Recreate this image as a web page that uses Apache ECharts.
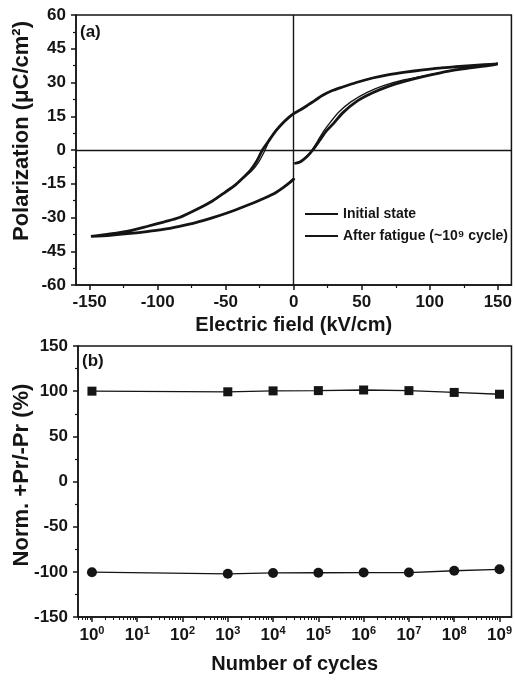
<!DOCTYPE html>
<html>
<head>
<meta charset="utf-8">
<title>P-E loop and fatigue</title>
<script src="https://cdn.jsdelivr.net/npm/echarts@6/dist/echarts.min.js"></script>
<style>
  html, body { margin: 0; padding: 0; background: #fff; }
  #chart { width: 515px; height: 685px; }
</style>
</head>
<body>
<div id="chart"></div>
<script>
// (a) hysteresis loops, E in kV/cm, P in uC/cm2
var initialE = [0.5, 5, 10, 14, 19, 24, 29, 36, 46, 58, 70, 82, 95, 107, 119, 131, 143, 150,
  140, 130, 119, 107, 95, 82, 70, 58, 46, 36, 28, 21, 16, 10, 5, 0, -4, -8, -13, -18, -23, -27, -32, -37, -43, -50, -60, -70, -84, -95, -108, -120, -135, -149,
  -135, -120, -108, -96, -84, -72, -60, -48, -35, -25, -15, -8, -3, 0.5];
var initialP = [-6.0, -5.2, -2.8, 0, 4.2, 8.5, 11.6, 16.5, 21.5, 25.4, 28.4, 30.6, 32.6, 34.2, 35.6, 36.6, 37.5, 38.3,
  37.9, 37.5, 37.0, 36.4, 35.6, 34.6, 33.5, 32.0, 30.0, 28.0, 26.3, 24.2, 22.2, 19.8, 17.9, 16.2, 14.3, 12.0, 8.6, 4.4, 0, -4.8, -9.2, -12.2, -15.6, -18.6, -22.8, -26.0, -30.0, -31.9, -34.0, -35.8, -37.3, -38.4,
  -37.9, -37.1, -36.3, -35.3, -33.9, -32.3, -30.2, -27.8, -24.8, -22.3, -19.6, -16.8, -14.5, -12.6];
var fatigueE = [0.5, 5, 10, 13.5, 18, 22, 27, 33, 42, 54, 66, 80, 95, 107, 119, 131, 143, 150,
  140, 130, 119, 107, 95, 82, 70, 58, 46, 36, 28, 21, 16, 10, 5, 0, -4, -8, -11, -15, -19, -22, -26, -31, -37, -43, -50, -60, -70, -84, -95, -108, -120, -135, -149,
  -135, -120, -108, -96, -84, -72, -60, -48, -35, -25, -15, -8, -3, 0.5];
var fatigueP = [-6.0, -5.0, -2.4, 0, 4.4, 8.4, 12.4, 16.8, 21.4, 25.6, 28.6, 31.0, 32.8, 34.3, 35.6, 36.6, 37.5, 38.3,
  37.9, 37.5, 37.0, 36.4, 35.6, 34.6, 33.5, 32.0, 30.0, 28.0, 26.3, 24.2, 22.2, 19.8, 17.9, 16.2, 14.3, 12.0, 10.4, 7.2, 2.8, -1.2, -5.6, -9.4, -12.4, -15.6, -18.6, -22.8, -26.0, -30.0, -31.9, -34.0, -35.8, -37.3, -38.4,
  -37.9, -37.1, -36.3, -35.3, -33.9, -32.3, -30.2, -27.8, -24.8, -22.3, -19.6, -16.8, -14.5, -12.6];
var fieldTicks = [-150, -100, -50, 0, 50, 100, 150];
var fieldMinorTicks = [-125, -75, -25, 25, 75, 125];

// (b) fatigue, normalized Pr in %
var cycles = [1, 1e3, 1e4, 1e5, 1e6, 1e7, 1e8, 1e9];
var posPr = [100, 99.3, 100.3, 100.6, 101.3, 100.6, 98.6, 96.6];
var negPr = [-100.4, -102.2, -101.2, -101, -100.8, -100.8, -98.8, -97.2];
var cycleTicks = [1, 10, 100, 1e3, 1e4, 1e5, 1e6, 1e7, 1e8, 1e9];

var cycleMinorTicks = [0.5, 0.6, 0.7, 0.8, 0.9];
for (var k = 0; k < 9; k++) {
  for (var m = 2; m <= 9; m++) cycleMinorTicks.push(m * Math.pow(10, k));
}

function zip(a, b) {
  return a.map(function (v, i) { return [v, b[i]]; });
}

var ink = '#151515';
var font = '"Liberation Sans", Arial, sans-serif';
var tickLabel = { color: ink, fontFamily: font, fontWeight: 'bold', fontSize: 17 };
var axisName = { color: ink, fontFamily: font, fontWeight: 'bold', fontSize: 20 };
var lineIcon = 'path://M0,0H60V4H0Z';

// vertical axis titles as rotated text (their centres sit off the grid middle)
function yTitle(text, x, y, size) {
  return {
    type: 'text', x: x, y: y, rotation: Math.PI / 2,
    style: { text: text, fill: ink, font: 'bold ' + size + 'px ' + font, textAlign: 'center', textVerticalAlign: 'bottom' }
  };
}

var myChart = echarts.init(document.getElementById('chart'), null, { renderer: 'canvas' });
var option = {
  animation: false,
  backgroundColor: '#fff',
  grid: [
    { left: 76, top: 15, width: 436, height: 270, show: true, borderColor: ink, borderWidth: 1.5 },
    { left: 78, top: 346, width: 435, height: 271, show: true, borderColor: ink, borderWidth: 1.5 }
  ],
  legend: {
    left: 300, top: 202, orient: 'vertical',
    itemWidth: 33, itemHeight: 14, itemGap: 8,
    textStyle: { color: ink, fontFamily: font, fontWeight: 'bold', fontSize: 14 },
    data: [
      { name: 'Initial state', icon: lineIcon },
      { name: 'After fatigue (~10\u2079 cycle)', icon: lineIcon }
    ]
  },
  graphic: [
    { type: 'text', left: 80, top: 24, style: { text: '(a)', fill: ink, font: 'bold 17px ' + font } },
    { type: 'text', left: 82, top: 353, style: { text: '(b)', fill: ink, font: 'bold 17px ' + font } },
    yTitle('Polarization (\u03bcC/cm\u00b2)', 33, 131, 22),
    yTitle('Norm. +Pr/-Pr (%)', 33, 475, 22)
  ],
  xAxis: [
    {
      gridIndex: 0, type: 'value', min: -160, max: 160, position: 'bottom',
      name: 'Electric field (kV/cm)', nameLocation: 'middle', nameGap: 30, nameTextStyle: axisName,
      axisLine: { onZero: false, lineStyle: { color: ink, width: 1.5 } },
      axisTick: { customValues: fieldTicks, length: 5, lineStyle: { color: ink, width: 1.5 } },
      axisLabel: Object.assign({ customValues: fieldTicks, margin: 9 }, tickLabel),
      splitLine: { show: false }
    },
    {
      gridIndex: 0, type: 'value', min: -160, max: 160, position: 'bottom',
      axisLine: { show: false, onZero: false },
      axisTick: { customValues: fieldMinorTicks, length: 3, lineStyle: { color: ink, width: 1.2 } },
      axisLabel: { show: false },
      splitLine: { show: false }
    },
    {
      gridIndex: 1, type: 'log', logBase: 10, min: 0.492, max: 1.84e9, position: 'bottom',
      name: 'Number of cycles', nameLocation: 'middle', nameGap: 37, nameTextStyle: axisName,
      axisLine: { onZero: false, lineStyle: { color: ink, width: 1.5 } },
      axisTick: { customValues: cycleTicks, length: 5, lineStyle: { color: ink, width: 1.5 } },
      axisLabel: {
        customValues: cycleTicks, margin: 8,
        formatter: function (v) {
          return '{b|10}{s|' + Math.round(Math.log(v) / Math.LN10) + '}';
        },
        rich: {
          b: { color: ink, fontFamily: font, fontWeight: 'bold', fontSize: 17 },
          s: { color: ink, fontFamily: font, fontWeight: 'bold', fontSize: 11, padding: [0, 0, 9, 0] }
        }
      },
      splitLine: { show: false }
    },
    {
      gridIndex: 1, type: 'log', logBase: 10, min: 0.492, max: 1.84e9, position: 'bottom',
      axisLine: { show: false, onZero: false },
      axisTick: { customValues: cycleMinorTicks, length: 3, lineStyle: { color: ink, width: 1 } },
      axisLabel: { show: false },
      splitLine: { show: false }
    }
  ],
  yAxis: [
    {
      gridIndex: 0, type: 'value', min: -60, max: 60, interval: 15, position: 'left',
      axisLine: { onZero: false, lineStyle: { color: ink, width: 1.5 } },
      axisTick: { length: 5, lineStyle: { color: ink, width: 1.5 } },
      minorTick: { show: true, splitNumber: 2, length: 3, lineStyle: { color: ink, width: 1.2 } },
      axisLabel: Object.assign({ margin: 10 }, tickLabel),
      splitLine: { show: false }
    },
    {
      gridIndex: 1, type: 'value', min: -150, max: 150, interval: 50, position: 'left',
      axisLine: { onZero: false, lineStyle: { color: ink, width: 1.5 } },
      axisTick: { length: 5, lineStyle: { color: ink, width: 1.5 } },
      minorTick: { show: true, splitNumber: 2, length: 3, lineStyle: { color: ink, width: 1.2 } },
      axisLabel: Object.assign({ margin: 10 }, tickLabel),
      splitLine: { show: false }
    }
  ],
  series: [
    {
      name: 'Initial state', type: 'line', xAxisIndex: 0, yAxisIndex: 0,
      symbol: 'none', smooth: 0.25,
      lineStyle: { color: ink, width: 2.8 },
      itemStyle: { color: ink },
      data: zip(initialE, initialP),
      markLine: {
        silent: true, symbol: 'none', animation: false,
        label: { show: false },
        lineStyle: { color: ink, width: 1.4, type: 'solid' },
        data: [{ xAxis: 0 }, { yAxis: 0 }]
      }
    },
    {
      name: 'After fatigue (~10\u2079 cycle)', type: 'line', xAxisIndex: 0, yAxisIndex: 0,
      symbol: 'none', smooth: 0.25,
      lineStyle: { color: ink, width: 1.3 },
      itemStyle: { color: ink },
      data: zip(fatigueE, fatigueP)
    },
    {
      name: '+Pr', type: 'line', xAxisIndex: 2, yAxisIndex: 1,
      symbol: 'rect', symbolSize: 9,
      lineStyle: { color: ink, width: 1.3 },
      itemStyle: { color: ink },
      data: zip(cycles, posPr)
    },
    {
      name: '-Pr', type: 'line', xAxisIndex: 2, yAxisIndex: 1,
      symbol: 'circle', symbolSize: 10,
      lineStyle: { color: ink, width: 1.3 },
      itemStyle: { color: ink },
      data: zip(cycles, negPr)
    }
  ]
};
myChart.setOption(option);
</script>
</body>
</html>
